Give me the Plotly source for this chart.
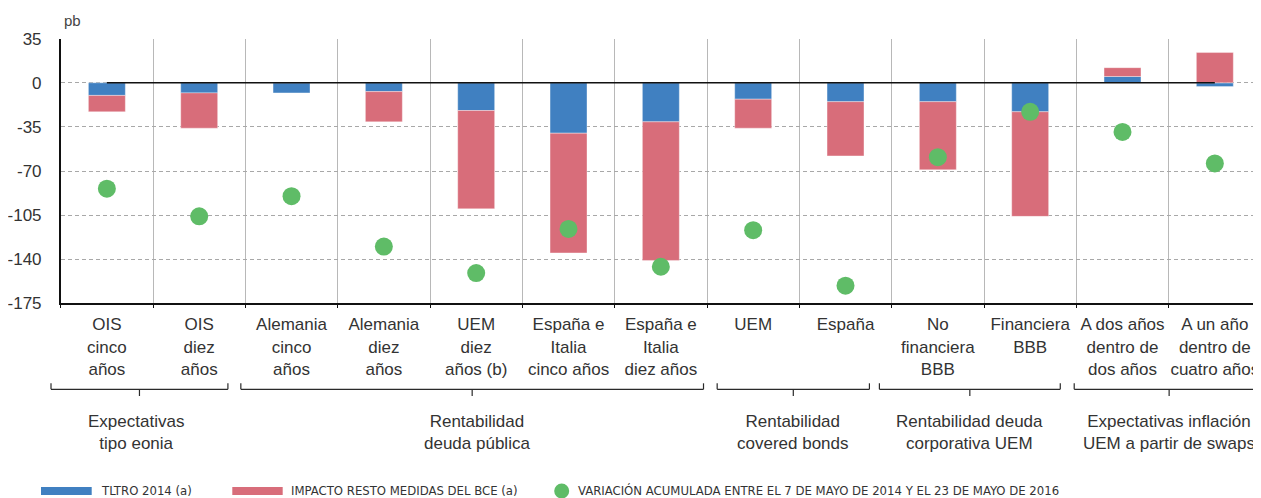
import plotly.graph_objects as go

# ---------------- data ----------------
categories = [
    "OIS<br>cinco<br>años", "OIS<br>diez<br>años",
    "Alemania<br>cinco<br>años", "Alemania<br>diez<br>años",
    "UEM<br>diez<br>años (b)", "España e<br>Italia<br>cinco años",
    "España e<br>Italia<br>diez años", "UEM", "España",
    "No<br>financiera<br>BBB", "Financiera<br>BBB",
    "A dos años<br>dentro de<br>dos años", "A un año<br>dentro de<br>cuatro años",
]
tltro = [-10, -8, -8, -7, -22, -40, -31, -13, -15, -15, -23, 5, -3]
resto = [-13, -28, 0.5, -24, -78, -95, -110, -23, -43, -54, -83, 7, 24]
variacion = [-84, -106, -90, -130, -151, -116, -146, -117, -161, -59, -23, -39, -64]

group_labels = [
    "Expectativas<br>tipo eonia",
    "Rentabilidad<br>deuda pública",
    "Rentabilidad<br>covered bonds",
    "Rentabilidad deuda<br>corporativa UEM",
    "Expectativas inflación<br>UEM a partir de swaps",
]
group_first = [0, 2, 7, 9, 11]
group_last = [1, 6, 8, 10, 12]

y_ticks = [35, 0, -35, -70, -105, -140, -175]
legend_names = ["TLTRO 2014 (a)", "IMPACTO RESTO MEDIDAS DEL BCE (a)",
                "VARIACIÓN ACUMULADA ENTRE EL 7 DE MAYO DE 2014 Y EL 23 DE MAYO DE 2016"]

# ---------------- style ----------------
BLUE = "#4080C1"
RED = "#D86D7A"
GREEN = "#5FBC67"
TXT = "#333333"
FONT = "Liberation Sans, Arial, Helvetica, sans-serif"
NARROW = "Liberation Sans Narrow, DejaVu Sans Condensed, Arial Narrow, sans-serif"

OFF = 8  # page body margin
W, H = 1261 - OFF, 498 - OFF
PLOT_L, PLOT_R = 60.7, 1261
PLOT_T, PLOT_B = 38.7, 303.3
CAT_W = (PLOT_R - PLOT_L) / len(categories)


def px(x):
    return (x - OFF) / W


def py(y):
    return 1 - (y - OFF) / H


def cx(u):
    """category-unit position -> paper x"""
    return px(PLOT_L + (u + 0.5) * CAT_W)


fig = go.Figure()
fig.add_trace(go.Bar(x=categories, y=tltro, width=0.4, marker=dict(color=BLUE, line=dict(color="rgba(255,255,255,0.45)", width=0.8)),
                     name=legend_names[0], hoverinfo="skip"))
fig.add_trace(go.Bar(x=categories, y=resto, width=0.4, marker=dict(color=RED, line=dict(color="rgba(255,255,255,0.45)", width=0.8)),
                     name=legend_names[1], hoverinfo="skip"))
fig.add_trace(go.Scatter(x=[categories[0], categories[-1]], y=[0, 0], mode="lines",
                         line=dict(color="#111111", width=1.5), hoverinfo="skip"))
fig.add_trace(go.Scatter(x=categories, y=variacion, mode="markers",
                         marker=dict(color=GREEN, size=18), name=legend_names[2], hoverinfo="skip"))

shapes = []
annotations = []

# group brackets (irregular extents relative to category boundaries)
bracket_pad = [(-0.105, -0.189), (-0.049, -0.038), (0.11, -0.241), (-0.133, -0.174), (-0.023, 0.033)]
label_shift = [-0.04, 0.05, 0.0, 0.0, 0.0]
for i, lab in enumerate(group_labels):
    a = group_first[i] - 0.5 + bracket_pad[i][0]
    b = group_last[i] + 0.5 + bracket_pad[i][1]
    mid = (a + b) / 2
    ytop, ymid, ybot = py(383.3), py(389.3), py(396)
    for (x0, y0, x1, y1) in [(a, ymid, b, ymid), (a, ymid, a, ytop), (b, ymid, b, ytop), (mid, ymid, mid, ybot)]:
        shapes.append(dict(type="line", xref="paper", yref="paper", x0=cx(x0), x1=cx(x1), y0=y0, y1=y1,
                           line=dict(color="#2a2a2a", width=1.2)))
    annotations.append(dict(xref="paper", yref="paper", x=cx(mid + label_shift[i]), y=py(432.7), text=lab,
                            showarrow=False, xanchor="center", yanchor="middle", align="center",
                            font=dict(family=FONT, size=17, color=TXT)))

# legend (manual)
shapes.append(dict(type="rect", xref="paper", yref="paper", x0=px(41), x1=px(91.7), y0=py(495), y1=py(487),
                   fillcolor=BLUE, line=dict(width=0)))
shapes.append(dict(type="rect", xref="paper", yref="paper", x0=px(232.3), x1=px(282.7), y0=py(495), y1=py(487),
                   fillcolor=RED, line=dict(width=0)))
shapes.append(dict(type="circle", xref="paper", yref="paper", x0=px(554.2), x1=px(569.2), y0=py(498.5), y1=py(483.5),
                   fillcolor=GREEN, line=dict(width=0)))
for xpos, name in zip([99, 289, 576], legend_names):
    annotations.append(dict(xref="paper", yref="paper", x=px(xpos), y=py(490.5), text=name, showarrow=False,
                            xanchor="left", yanchor="middle", font=dict(family=NARROW, size=13, color=TXT)))

# unit label
annotations.append(dict(xref="paper", yref="paper", x=px(62), y=py(20.7), text="pb", showarrow=False,
                        xanchor="left", yanchor="middle", font=dict(family=FONT, size=15, color="#444444")))

fig.update_layout(
    width=W, height=H,
    margin=dict(l=0, r=0, t=0, b=0),
    paper_bgcolor="white", plot_bgcolor="white",
    barmode="relative",
    showlegend=False,
    shapes=shapes,
    annotations=annotations,
    font=dict(family=FONT, size=17, color=TXT),
    xaxis=dict(
        domain=[px(PLOT_L), 1],
        type="category",
        range=[-0.5, 12.5],
        tickson="boundaries",
        ticks="outside", ticklen=3, tickcolor="#111111",
        tickangle=0, ticklabelstandoff=5,
        showgrid=True, gridcolor="#b8b8b8", gridwidth=1,
        showline=True, linecolor="#111111", linewidth=1.5,
        tickfont=dict(family=FONT, size=17, color=TXT),
        automargin=False,
        fixedrange=True,
    ),
    yaxis=dict(
        domain=[py(PLOT_B), py(PLOT_T)],
        range=[-175, 35],
        tickvals=y_ticks,
        ticktext=[str(v) for v in y_ticks],
        showgrid=True, gridcolor="#a8a8a8", gridwidth=1, griddash="4px,3px",
        zeroline=False,
        showline=True, linecolor="#111111", linewidth=1.5,
        ticks="", ticklabelstandoff=14,
        tickfont=dict(family=FONT, size=17, color=TXT),
        automargin=False,
        fixedrange=True,
    ),
)

fig.write_html("out.html")
